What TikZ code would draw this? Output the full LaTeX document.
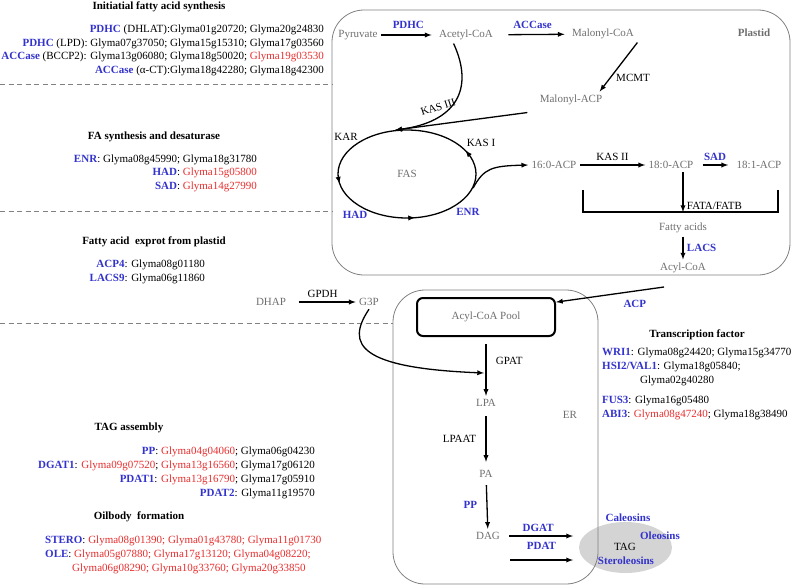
\documentclass[tikz,border=0pt]{standalone}
\usepackage{fontspec}
\setmainfont{Liberation Serif}
\usetikzlibrary{positioning, arrows, shapes}
\definecolor{enzblue}{RGB}{51,51,204}
\definecolor{genered}{RGB}{232,45,45}
\definecolor{metgray}{RGB}{110,110,110}
\definecolor{tagfill}{RGB}{212,212,212}
\newcommand{\enzyme}[1]{\textcolor{enzblue}{\textbf{#1}}}
\newcommand{\redgene}[1]{\textcolor{genered}{#1}}
\newcommand{\txtsize}{\fontsize{11}{13}\selectfont}

\begin{document}
\begin{tikzpicture}[x=1pt,y=-1pt,>=latex,font=\txtsize,
	met/.style={text=metgray},
	plain/.style={text=black},
	enz/.style={text=enzblue,font=\txtsize\bfseries},
	head/.style={font=\txtsize\bfseries},
	genes/.style={anchor=east,inner sep=0pt},
	genesl/.style={anchor=west,inner sep=0pt},
	flow/.style={-latex,line width=1.3pt},
	tick/.style={-latex,line width=1.3pt,shorten >=-2pt},
	sep/.style={gray,dashed,dash pattern=on 5pt off 3.5pt,line width=0.7pt},
	compartment/.style={draw=gray,line width=0.8pt,rounded corners=32pt},
	poolbox/.style={draw,line width=2pt,rounded corners=6pt,text=metgray,minimum width=138pt,minimum height=38pt}]

	\useasboundingbox (0,0) rectangle (796,587);

	%Gene lists
	\node[head] (h_init) at (159,7) {Initiatial fatty acid synthesis};
	\node[genes] (g_pdhc1) at (324,30) {\enzyme{PDHC} (DHLAT):Glyma01g20720; Glyma20g24830};
	\node[genes] (g_pdhc2) at (324,44) {\enzyme{PDHC} (LPD): Glyma07g37050; Glyma15g15310; Glyma17g03560};
	\node[genes] (g_acc1) at (324,57) {\enzyme{ACCase} (BCCP2): Glyma13g06080; Glyma18g50020; \redgene{Glyma19g03530}};
	\node[genes] (g_acc2) at (324,71) {\enzyme{ACCase} (α-CT):Glyma18g42280; Glyma18g42300};

	\node[head] (h_fa) at (154,137) {FA synthesis and desaturase};
	\node[genes] (g_enr) at (257,160) {\enzyme{ENR}: Glyma08g45990; Glyma18g31780};
	\node[genes] (g_had) at (257,173) {\enzyme{HAD}: \redgene{Glyma15g05800}};
	\node[genes] (g_sad) at (257,187) {\enzyme{SAD}: \redgene{Glyma14g27990}};

	\node[head] (h_exp) at (154,242) {Fatty acid~ exprot from plastid};
	\node[genes] (g_acp4) at (205,265) {\enzyme{ACP4}: Glyma08g01180};
	\node[genes] (g_lacs9) at (205,279) {\enzyme{LACS9}: Glyma06g11860};

	\node[head] (h_tag) at (129,428) {TAG assembly};
	\node[genes] (g_pp) at (315,452) {\enzyme{PP}: \redgene{Glyma04g04060}; Glyma06g04230};
	\node[genes] (g_dgat1) at (315,466) {\enzyme{DGAT1}: \redgene{Glyma09g07520}; \redgene{Glyma13g16560}; Glyma17g06120};
	\node[genes] (g_pdat1) at (315,480) {\enzyme{PDAT1}: \redgene{Glyma13g16790}; Glyma17g05910};
	\node[genes] (g_pdat2) at (315,494) {\enzyme{PDAT2}: Glyma11g19570};

	\node[head] (h_oil) at (139,517) {Oilbody~ formation};
	\node[genesl] (g_stero) at (45,541) {\enzyme{STERO}: \redgene{Glyma08g01390; Glyma01g43780; Glyma11g01730}};
	\node[genesl] (g_ole1) at (45,555) {\enzyme{OLE}: \redgene{Glyma05g07880; Glyma17g13120; Glyma04g08220;}};
	\node[genesl] (g_ole2) at (72,569) {\redgene{Glyma06g08290; Glyma10g33760; Glyma20g33850}};

	\node[head] (h_tf) at (697,335) {Transcription factor};
	\node[genesl] (t_wri1) at (602,353) {\enzyme{WRI1}: Glyma08g24420; Glyma15g34770};
	\node[genesl] (t_hsi2) at (602,367) {\enzyme{HSI2/VAL1}: Glyma18g05840;};
	\node[genesl] (t_hsi2b) at (640,381) {Glyma02g40280};
	\node[genesl] (t_fus3) at (602,401) {\enzyme{FUS3}: Glyma16g05480};
	\node[genesl] (t_abi3) at (602,415) {\enzyme{ABI3}: \redgene{Glyma08g47240}; Glyma18g38490};

	%Separators
	\draw[sep] (0,84) -- (332,84);
	\draw[sep] (0,211) -- (332,211);
	\draw[sep] (0,323) -- (393,323);

	%Compartments
	\node[compartment,minimum width=458pt,minimum height=265pt] (plastid) at (561,142.5) {};
	\node[met,font=\txtsize\bfseries] (plastid_lbl) at (754,33) {Plastid};
	\node[ellipse,fill=tagfill,minimum width=93pt,minimum height=51pt] (tag) at (625.5,547.5) {};
	\node[compartment,minimum width=205pt,minimum height=294pt] (er) at (495.5,437) {};
	\node[met] (er_lbl) at (570,415) {ER};

	%Plastid pathway
	\node[met] (pyr) at (358,35) {Pyruvate};
	\node[met] (acetyl) at (466,35) {Acetyl-CoA};
	\node[met] (malcoa) at (603,34) {Malonyl-CoA};
	\node[met] (malacp) at (571,100) {Malonyl-ACP};
	\node[draw,ellipse,line width=1.3pt,met,minimum width=138pt,minimum height=88pt] (fas) at (407,174) {FAS};
	\node[met] (acp_16) at (554,165) {16:0-ACP};
	\node[met] (acp_180) at (671,165) {18:0-ACP};
	\node[met] (acp_181) at (759,165) {18:1-ACP};
	\node[met] (fa) at (683,228) {Fatty acids};
	\node[met] (acylcoa) at (683,268) {Acyl-CoA};
	\coordinate (bar_l) at (583,190);
	\coordinate (bar_m) at (683,212);
	\coordinate (bar_r) at (778,190);
	\coordinate (acp_from) at (664,287);

	\path[flow]
	(pyr) edge[shorten >=4pt] node[above=2pt,enz] {PDHC} (acetyl)
	(acetyl) edge[shorten <=12pt,shorten >=4pt] node[above=2pt,enz] {ACCase} (malcoa)
	(malcoa.south east) edge node[pos=0.72,right=2pt,plain] {MCMT} ([xshift=-6pt]malacp.north east)
	([xshift=-9pt,yshift=-4pt]malacp.south west) edge (fas.105)
	(acp_16) edge node[above,plain] {KAS II} (acp_180)
	(acp_180) edge[shorten <=6pt,shorten >=5pt] node[above,enz] {SAD} (acp_181)
	(acp_180.south -| bar_m) edge node[pos=0.85,right,plain] {FATA/FATB} (bar_m)
	(fa) edge node[right,enz] {LACS} (acylcoa);

	\draw[flow] ([xshift=18pt]acetyl.south west) .. controls (475,90) and (455,122) .. (fas.105);
	\draw[flow] (fas.-12) .. controls (484,168) and (492,166) .. (acp_16.west);
	\draw[line width=1.3pt] (bar_l) -- (bar_l |- bar_m) -- (bar_r |- bar_m) -- (bar_r);

	%FAS cycle direction
	\draw[tick] (469.0,154.7) -- (466.8,152.0);
	\draw[tick] (338.3,177.8) -- (339.1,181.6);
	\draw[tick] (408.2,218.0) -- (413.0,217.8);

	\node[plain,rotate=18,inner sep=1pt] (kas3) at (438,107) {KAS III};
	\node[plain] (kar) at (346,137) {KAR};
	\node[plain] (kas1) at (481,143) {KAS I};
	\node[enz] (had) at (355,215) {HAD};
	\node[enz] (enr) at (468,212) {ENR};

	%Export and ER pathway
	\node[met] (dhap) at (271,302) {DHAP};
	\node[met] (g3p) at (369,302) {G3P};
	\node[poolbox] (pool) at (486,317) {Acyl-CoA Pool};
	\node[met] (lpa) at (486,403) {LPA};
	\node[met] (pa) at (486,474) {PA};
	\node[met] (dag) at (488,536) {DAG};
	\coordinate (gpat_in) at (484,373);
	\coordinate (dgat_to) at (573,536);
	\coordinate (pdat_from) at (510,560);
	\coordinate (pdat_to) at (573,560);

	\path[flow]
	(dhap) edge[shorten <=9pt] node[above,plain] {GPDH} (g3p)
	(acp_from) edge node[pos=0.27,below=5pt,enz] {ACP} (pool.12)
	(pool) edge[shorten <=7pt] node[pos=0.4,right=6pt,plain] {GPAT} (lpa)
	(lpa) edge[shorten <=6pt,shorten >=5pt] node[left=6pt,plain] {LPAAT} (pa)
	(pa) edge[shorten <=4pt] node[left=6pt,enz] {PP} (dag)
	(dag) edge[shorten <=6pt] node[above,enz] {DGAT} (dgat_to)
	(pdat_from) edge node[above=7pt,enz] {PDAT} (pdat_to);

	\draw[flow] (g3p.south) .. controls (345,345) and (360,368) .. (gpat_in);

	%Oil body
	\node[plain] (tag_lbl) at (625,547) {TAG};
	\node[enz] (caleo) at (628,518) {Caleosins};
	\node[enz] (oleo) at (660,536) {Oleosins};
	\node[enz] (stero) at (626,561) {Steroleosins};

\end{tikzpicture}
\end{document}
